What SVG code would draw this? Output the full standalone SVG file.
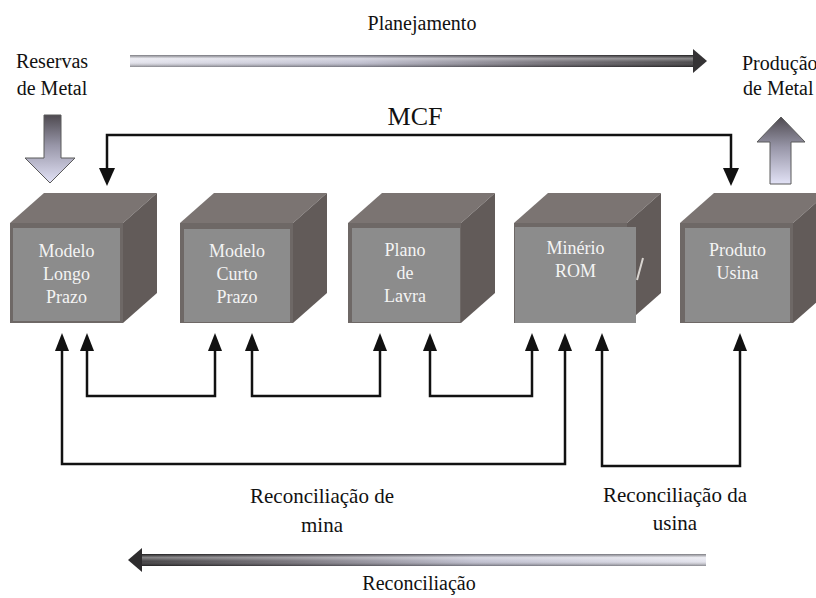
<svg xmlns="http://www.w3.org/2000/svg" width="816" height="598" viewBox="0 0 816 598">
  <style>
    text { font-family: "Liberation Serif", "DejaVu Serif", "Times New Roman", serif; }
    .txt { fill: #111; }
    .lbl { font-size: 18px; fill: #f4f4f4; text-anchor: middle; }
    .cube-top { fill: #7b7472; }
    .cube-side { fill: #625b59; }
    .cube-front { fill: #6e6866; }
    .cube-face { fill: #8c8c8c; }
    .wire { fill: none; stroke: #111; stroke-width: 2.5; stroke-linejoin: miter; }
    .head { fill: #111; }
    .block { stroke: #5a5a5a; stroke-width: 1; }
  </style>
  <defs>
    <!-- horizontal tone for the top (planning) arrow: light on the left, dark at the tip -->
    <linearGradient id="planTone" gradientUnits="userSpaceOnUse" x1="130" y1="0" x2="707" y2="0">
      <stop offset="0" stop-color="#e2e2ec"/>
      <stop offset="0.4" stop-color="#bcbccd"/>
      <stop offset="0.72" stop-color="#6c6870"/>
      <stop offset="1" stop-color="#353335"/>
    </linearGradient>
    <!-- horizontal tone for the bottom (reconciliation) arrow: dark at the tip, light on the right -->
    <linearGradient id="reconTone" gradientUnits="userSpaceOnUse" x1="128" y1="0" x2="706" y2="0">
      <stop offset="0" stop-color="#2e2c2e"/>
      <stop offset="0.28" stop-color="#6c6870"/>
      <stop offset="0.6" stop-color="#bcbccd"/>
      <stop offset="1" stop-color="#e2e2ec"/>
    </linearGradient>
    <!-- tube shading across the shaft -->
    <linearGradient id="tube" x1="0" y1="0" x2="0" y2="1">
      <stop offset="0" stop-color="#000" stop-opacity="0.45"/>
      <stop offset="0.3" stop-color="#fff" stop-opacity="0.4"/>
      <stop offset="0.6" stop-color="#fff" stop-opacity="0.1"/>
      <stop offset="1" stop-color="#000" stop-opacity="0.4"/>
    </linearGradient>
    <!-- block arrows: dark top, pale lavender bottom -->
    <linearGradient id="blockTone" x1="0" y1="0" x2="0" y2="1">
      <stop offset="0" stop-color="#4e4a50"/>
      <stop offset="0.45" stop-color="#9896a8"/>
      <stop offset="1" stop-color="#e2e2f6"/>
    </linearGradient>
    <g id="cube">
      <polygon class="cube-top" points="0,0 34,-30 147,-30 113,0"/>
      <polygon class="cube-side" points="113,0 147,-30 147,70 113,100"/>
      <rect class="cube-front" x="0" y="0" width="113" height="100"/>
    </g>
  </defs>

  <rect x="0" y="0" width="816" height="598" fill="#ffffff"/>

  <!-- Planning arrow -->
  <g id="planejamento">
    <text class="txt" x="422" y="30" font-size="20" text-anchor="middle">Planejamento</text>
    <rect x="130" y="55" width="565" height="12" fill="url(#planTone)"/>
    <rect x="130" y="55" width="565" height="12" fill="url(#tube)"/>
    <polygon points="693,49 707,61 693,73" fill="#353335"/>
  </g>

  <!-- Metal reserves input -->
  <g id="reservas">
    <text class="txt" x="52" y="68" font-size="20" text-anchor="middle">Reservas</text>
    <text class="txt" x="52" y="95" font-size="20" text-anchor="middle">de Metal</text>
    <polygon class="block" fill="url(#blockTone)" points="44,115 61,115 61,158 75,158 50,183 25,158 44,158"/>
  </g>

  <!-- Metal production output -->
  <g id="producao">
    <text class="txt" x="742" y="70" font-size="20">Produção</text>
    <text class="txt" x="743" y="95" font-size="20">de Metal</text>
    <polygon class="block" fill="url(#blockTone)" points="781,117 805,142 791,142 791,184 770,184 770,142 757,142"/>
  </g>

  <!-- Cubes -->
  <g id="modelo-longo-prazo">
    <use href="#cube" x="10" y="223"/>
    <rect class="cube-face" x="13" y="228" width="107" height="93"/>
    <text class="lbl" x="66.5" y="257">Modelo</text>
    <text class="lbl" x="66.5" y="280">Longo</text>
    <text class="lbl" x="66.5" y="303">Prazo</text>
  </g>
  <g id="modelo-curto-prazo">
    <use href="#cube" x="180" y="223"/>
    <rect class="cube-face" x="184" y="229" width="106" height="93"/>
    <text class="lbl" x="237" y="257">Modelo</text>
    <text class="lbl" x="237" y="280">Curto</text>
    <text class="lbl" x="237" y="303">Prazo</text>
  </g>
  <g id="plano-de-lavra">
    <use href="#cube" x="348" y="223"/>
    <rect class="cube-face" x="352" y="228" width="108" height="94"/>
    <text class="lbl" x="405" y="256">Plano</text>
    <text class="lbl" x="405" y="279">de</text>
    <text class="lbl" x="405" y="302">Lavra</text>
  </g>
  <g id="minerio-rom">
    <use href="#cube" x="514" y="223"/>
    <line x1="643" y1="258" x2="637" y2="280" stroke="#d8d4d0" stroke-width="2"/>
    <rect class="cube-face" x="515" y="227" width="121" height="96"/>
    <text class="lbl" x="575.5" y="254">Minério</text>
    <text class="lbl" x="575.5" y="277">ROM</text>
  </g>
  <g id="produto-usina">
    <use href="#cube" x="680" y="223"/>
    <rect class="cube-face" x="685" y="228" width="105" height="94"/>
    <text class="lbl" x="737.5" y="256">Produto</text>
    <text class="lbl" x="737.5" y="279">Usina</text>
  </g>

  <!-- Connectors -->
  <g id="connectors">
    <!-- MCF loop -->
    <text class="txt" x="415" y="125" font-size="26" text-anchor="middle">MCF</text>
    <path class="wire" d="M107,169 V135 H731 V169"/>
    <polygon class="head" points="99,168 115,168 107,186"/>
    <polygon class="head" points="723,168 739,168 731,186"/>

    <!-- short reconciliation loops between neighbours -->
    <path class="wire" d="M87,350 V396 H215 V350"/>
    <path class="wire" d="M252,350 V396 H380 V350"/>
    <path class="wire" d="M430,350 V396 H532 V350"/>
    <!-- mine reconciliation -->
    <path class="wire" d="M62,350 V464 H565 V350"/>
    <!-- plant reconciliation -->
    <path class="wire" d="M602,350 V466 H740 V350"/>

    <g class="head">
      <polygon points="55,351 69,351 62,333"/>
      <polygon points="80,351 94,351 87,333"/>
      <polygon points="208,351 222,351 215,333"/>
      <polygon points="245,351 259,351 252,333"/>
      <polygon points="373,351 387,351 380,333"/>
      <polygon points="423,351 437,351 430,333"/>
      <polygon points="525,351 539,351 532,333"/>
      <polygon points="558,351 572,351 565,333"/>
      <polygon points="595,351 609,351 602,333"/>
      <polygon points="733,351 747,351 740,333"/>
    </g>

    <text class="txt" x="322" y="503" font-size="21" text-anchor="middle">Reconciliação de</text>
    <text class="txt" x="322" y="532" font-size="21" text-anchor="middle">mina</text>
    <text class="txt" x="675" y="502" font-size="21" text-anchor="middle">Reconciliação da</text>
    <text class="txt" x="675" y="530" font-size="21" text-anchor="middle">usina</text>
  </g>

  <!-- Reconciliation arrow -->
  <g id="reconciliacao">
    <rect x="141" y="554" width="565" height="12" fill="url(#reconTone)"/>
    <rect x="141" y="554" width="565" height="12" fill="url(#tube)"/>
    <polygon points="142,548 128,560 142,572" fill="#2e2c2e"/>
    <text class="txt" x="419" y="590" font-size="20" text-anchor="middle">Reconciliação</text>
  </g>
</svg>
